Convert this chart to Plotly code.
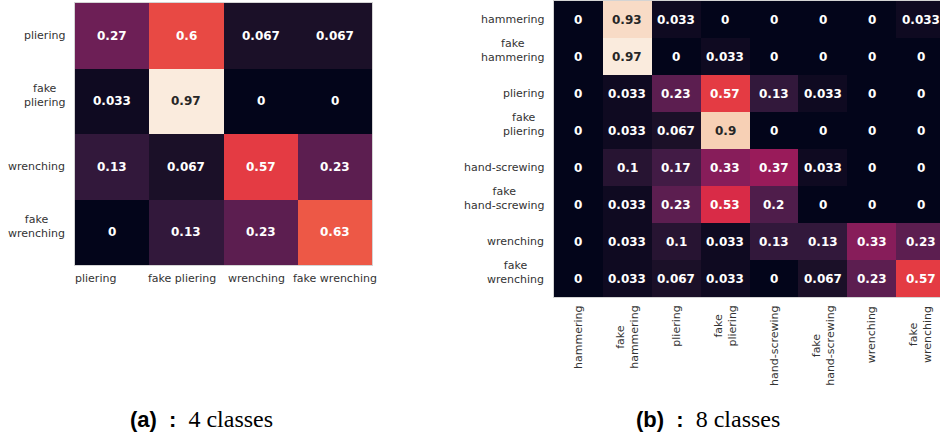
import plotly.graph_objects as go

# ---- data -------------------------------------------------------------
labels_4 = ["pliering", "fake<br>pliering", "wrenching", "fake<br>wrenching"]
xlabels_4 = ["pliering", "fake pliering", "wrenching", "fake wrenching"]
cm_4 = [
    [0.27, 0.6, 0.067, 0.067],
    [0.033, 0.97, 0, 0],
    [0.13, 0.067, 0.57, 0.23],
    [0, 0.13, 0.23, 0.63],
]

labels_8 = ["hammering", "fake<br>hammering", "pliering", "fake<br>pliering",
            "hand-screwing", "fake<br>hand-screwing", "wrenching", "fake<br>wrenching"]
cm_8 = [
    [0, 0.93, 0.033, 0, 0, 0, 0, 0.033],
    [0, 0.97, 0, 0.033, 0, 0, 0, 0],
    [0, 0.033, 0.23, 0.57, 0.13, 0.033, 0, 0],
    [0, 0.033, 0.067, 0.9, 0, 0, 0, 0],
    [0, 0.1, 0.17, 0.33, 0.37, 0.033, 0, 0],
    [0, 0.033, 0.23, 0.53, 0.2, 0, 0, 0],
    [0, 0.033, 0.1, 0.033, 0.13, 0.13, 0.33, 0.23],
    [0, 0.033, 0.067, 0.033, 0, 0.067, 0.23, 0.57],
]

captions = [("(a)", "4 classes"), ("(b)", "8 classes")]

# ---- styling ----------------------------------------------------------
W, H = 940, 439
rocket = [
    [0.000, "#03051A"], [0.071, "#1C1028"], [0.143, "#35193E"],
    [0.214, "#521E4D"], [0.286, "#701F57"], [0.357, "#8E1D5B"],
    [0.429, "#AD1759"], [0.500, "#CB1B4F"], [0.571, "#E13342"],
    [0.643, "#EC5545"], [0.714, "#F37651"], [0.786, "#F59670"],
    [0.857, "#F6B48F"], [0.929, "#F7D0B6"], [1.000, "#FAEBDD"],
]
TICK_FONT = dict(family="DejaVu Sans", size=11, color="#333333")
CELL_FONT = "DejaVu Sans"
# horizontal nudges (px) of the bottom labels of the 4-class matrix
XLABEL_NUDGE_4 = [-17, -4, -4, 0]
NB = "\u00a0"


def px_x(p):
    return p / W


def px_y(p):
    return 1 - p / H


def fmt(v):
    return "{:.2g}".format(v)


fig = go.Figure()
annotations = []


def add_matrix(mat, ylabels, idx, x0, x1, y0, y1, xrange_, vmax, xlabels=None, rotate=False):
    n = len(mat)
    xa = "x" if idx == 1 else "x%d" % idx
    ya = "y" if idx == 1 else "y%d" % idx
    fig.add_trace(go.Heatmap(
        z=mat, x=list(range(n)), y=list(range(n)),
        zmin=0, zmax=vmax, colorscale=rocket, showscale=False,
        xaxis=xa, yaxis=ya, hoverinfo="skip",
    ))
    # cell values
    for i, row in enumerate(mat):
        for j, v in enumerate(row):
            annotations.append(dict(
                x=j, y=i, xref=xa, yref=ya, text="<b>%s</b>" % fmt(v),
                showarrow=False,
                font=dict(family=CELL_FONT, size=12,
                          color="#262626" if v / vmax > 0.8 else "#FFFFFF"),
            ))
    # row labels
    for i, lab in enumerate(ylabels):
        annotations.append(dict(
            x=px_x(x0 - 8), y=i, xref="paper", yref=ya, text=lab,
            xanchor="right", yanchor="middle", align="center",
            yshift=6 if "<br>" in lab else 0,
            showarrow=False, font=TICK_FONT,
        ))
    # column labels
    if rotate:
        for j, lab in enumerate(ylabels):
            annotations.append(dict(
                x=j, y=px_y(y1 + 7), xref=xa, yref="paper", text=lab,
                textangle=-90, xanchor="center", yanchor="top", align="center",
                showarrow=False, font=TICK_FONT,
            ))
    else:
        for j, lab in enumerate(xlabels):
            annotations.append(dict(
                x=j, y=px_y(y1 + 5), xref=xa, yref="paper", text=lab,
                xanchor="center", yanchor="top", xshift=XLABEL_NUDGE_4[j],
                showarrow=False, font=TICK_FONT,
            ))
    axis_common = dict(showticklabels=False, ticks="", showgrid=False, zeroline=False,
                       showline=True, mirror=True, linecolor="#d4d4d4", linewidth=1)
    fig.update_layout(**{
        ("xaxis" if idx == 1 else "xaxis%d" % idx): dict(
            domain=[px_x(x0), min(1.0, px_x(x1))], range=xrange_, anchor=ya, **axis_common),
        ("yaxis" if idx == 1 else "yaxis%d" % idx): dict(
            domain=[px_y(y1), px_y(y0)], range=[n - 0.5, -0.5], anchor=xa, **axis_common),
    })


vmax4 = max(max(r) for r in cm_4)
vmax8 = max(max(r) for r in cm_8)

add_matrix(cm_4, labels_4, 1, 75, 372, 3, 265, [-0.5, 3.5], vmax4, xlabels=xlabels_4)
# the 8-class matrix runs off the right edge of the figure
cell8 = (945 - 554) / 8.0
add_matrix(cm_8, labels_8, 2, 554, 940, 1, 297,
           [-0.5, -0.5 + (940 - 554) / cell8], vmax8, rotate=True)

# sub-figure captions
for (tag, txt), cx in zip(captions, [201, 708]):
    annotations.append(dict(
        x=px_x(cx), y=px_y(419), xref="paper", yref="paper",
        text=("<span style='font-family:Liberation Sans;font-size:22px'><b>%s%s:</b></span>"
              "%s<span style='font-family:Liberation Serif'>%s</span>")
             % (tag, NB * 2, NB * 2, txt),
        showarrow=False, xanchor="center", yanchor="middle",
        font=dict(family="Liberation Serif", size=24, color="#000000"),
    ))

fig.update_layout(
    width=W, height=H, margin=dict(l=0, r=0, t=0, b=0),
    paper_bgcolor="white", plot_bgcolor="white",
    annotations=annotations, showlegend=False,
)

fig.write_html("out.html")
